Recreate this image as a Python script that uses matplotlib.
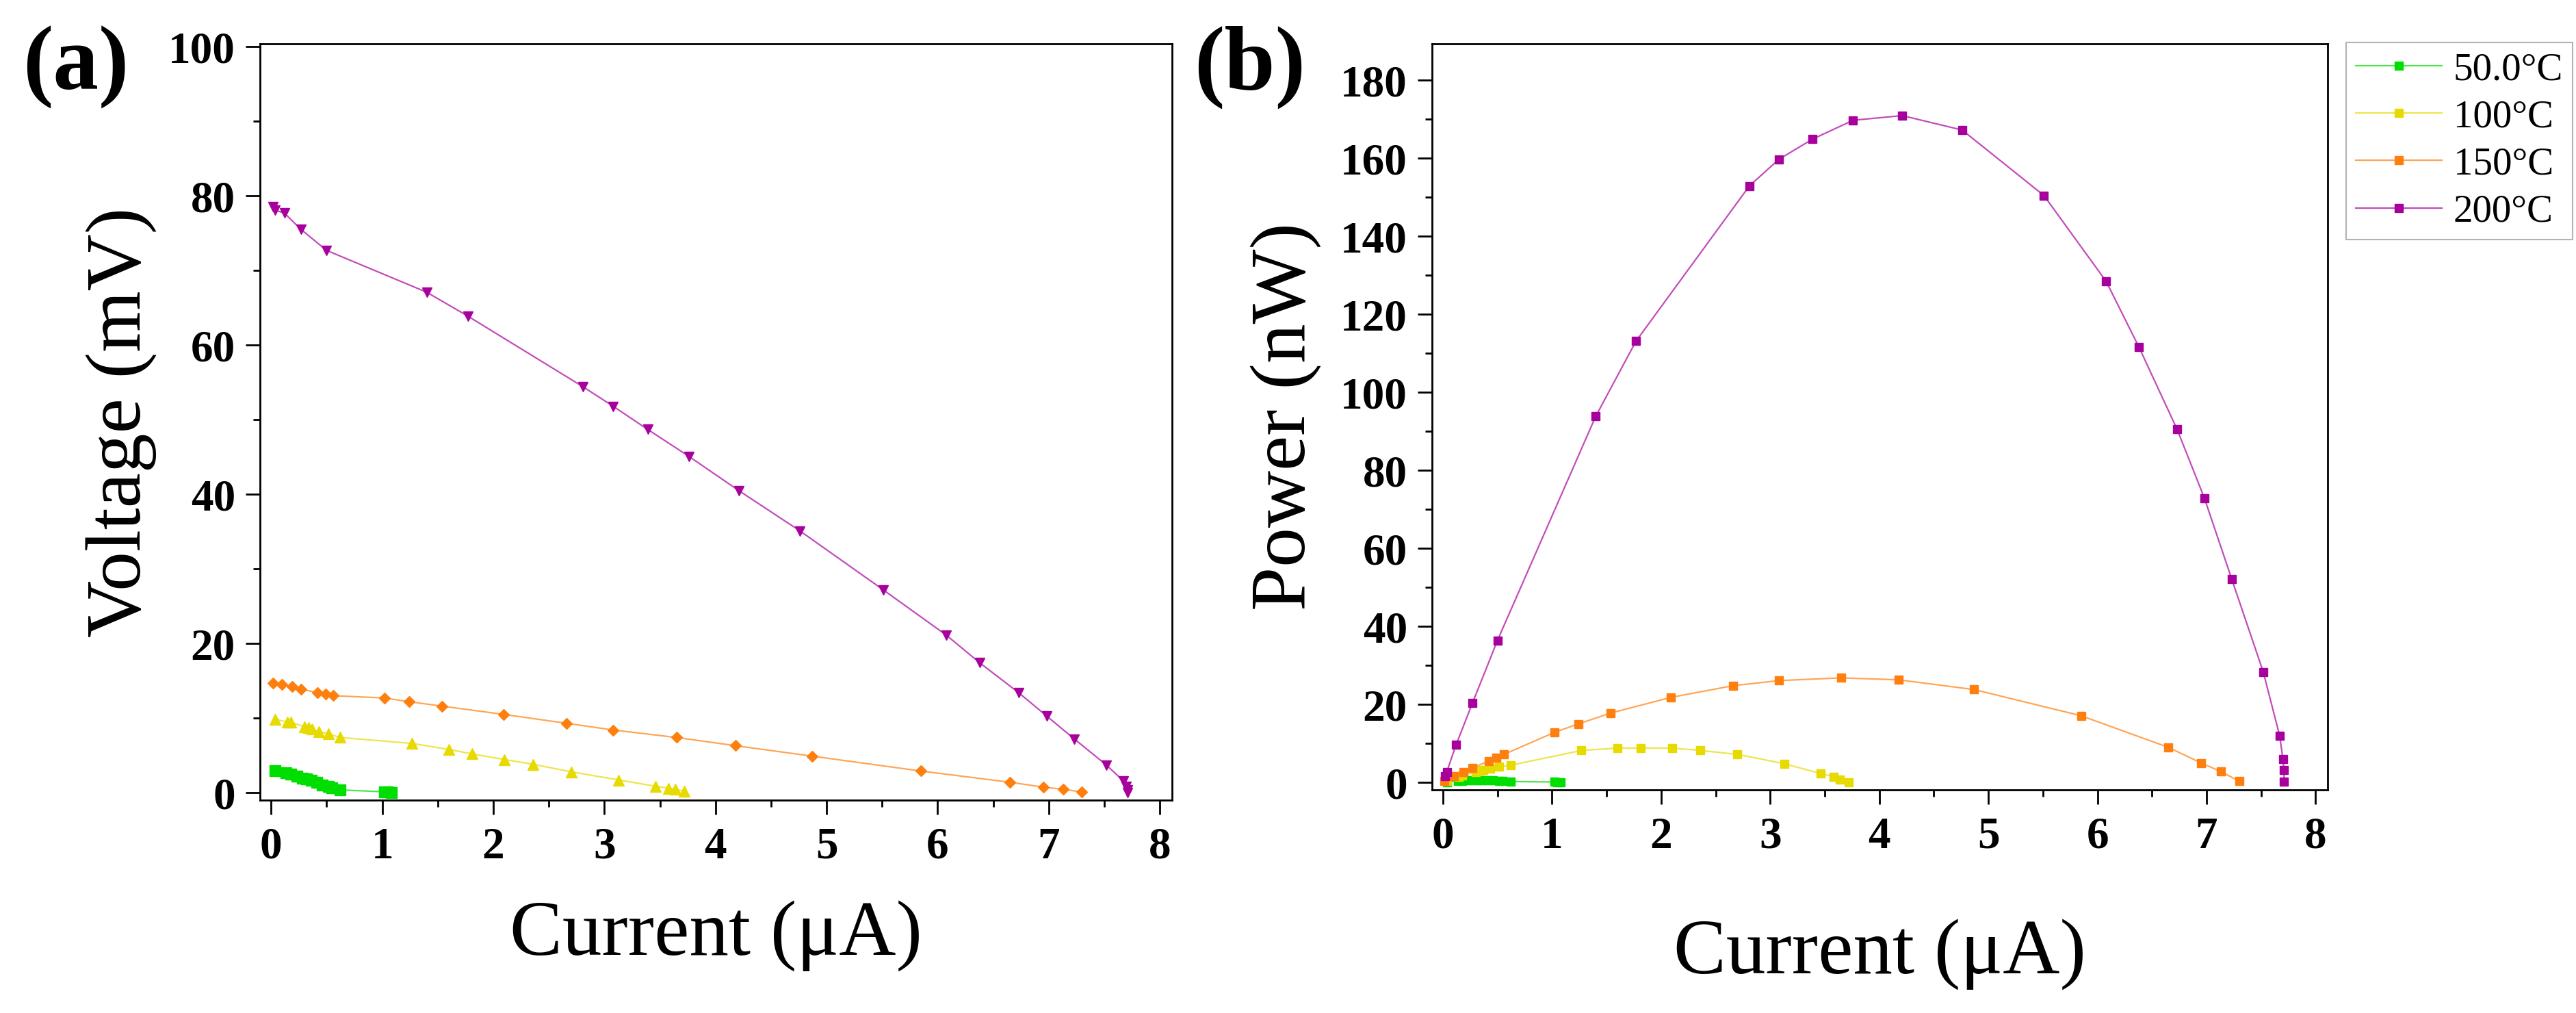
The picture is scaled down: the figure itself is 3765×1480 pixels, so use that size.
import matplotlib
matplotlib.use('Agg')
import matplotlib.pyplot as plt
from matplotlib.colors import to_rgba
from matplotlib.ticker import MultipleLocator

# ---------------------------------------------------------------------------
# Data (current in uA, voltage in mV, power in nW)
# ---------------------------------------------------------------------------
labels = ['50.0°C', '100°C', '150°C', '200°C']

i_50 = [0.035, 0.137, 0.178, 0.23, 0.28, 0.32, 0.36, 0.41, 0.46, 0.515,
        0.546, 0.62, 1.02, 1.05, 1.08]
v_50 = [2.94, 2.63, 2.48, 2.2, 1.96, 1.8, 1.65, 1.35, 1.04, 0.8,
        0.67, 0.37, 0.12, 0.07, 0.02]
p_50 = [0.1, 0.36, 0.44, 0.51, 0.55, 0.58, 0.59, 0.55, 0.48, 0.41,
        0.37, 0.23, 0.12, 0.07, 0.02]

i_100 = [0.035, 0.147, 0.178, 0.30, 0.34, 0.37, 0.43, 0.515, 0.62, 1.27,
         1.60, 1.81, 2.10, 2.36, 2.70, 3.13, 3.46, 3.58, 3.64, 3.72]
v_100 = [9.85, 9.45, 9.45, 8.84, 8.7, 8.53, 8.2, 7.9, 7.4, 6.6,
         5.8, 5.2, 4.45, 3.8, 2.8, 1.7, 0.86, 0.6, 0.43, 0.2]
p_100 = [0.35, 1.4, 1.7, 2.65, 2.95, 3.2, 3.5, 4.0, 4.4, 8.2,
         8.8, 8.8, 8.8, 8.2, 7.2, 4.8, 2.3, 1.5, 0.8, 0.0]

i_150 = [0.014, 0.10, 0.19, 0.27, 0.42, 0.49, 0.56, 1.02, 1.24, 1.54,
         2.09, 2.66, 3.08, 3.65, 4.18, 4.87, 5.85, 6.65, 6.95, 7.13, 7.30]
v_150 = [14.7, 14.5, 14.2, 13.9, 13.4, 13.2, 13.0, 12.7, 12.2, 11.6,
         10.5, 9.3, 8.4, 7.4, 6.3, 4.9, 2.9, 1.4, 0.75, 0.45, 0.1]
p_150 = [0.3, 1.6, 2.6, 3.7, 5.5, 6.4, 7.2, 12.8, 15.0, 17.8,
         21.8, 24.8, 26.1, 26.8, 26.3, 23.8, 17.1, 9.0, 5.0, 2.8, 0.3]

i_200 = [0.02, 0.035, 0.12, 0.27, 0.50, 1.40, 1.77, 2.81, 3.08, 3.39,
         3.76, 4.21, 4.76, 5.51, 6.08, 6.38, 6.73, 6.98, 7.23, 7.52,
         7.67, 7.70, 7.71, 7.71]
v_200 = [78.6, 78.1, 77.7, 75.5, 72.7, 67.1, 63.9, 54.4, 51.8, 48.7,
         45.1, 40.5, 35.1, 27.2, 21.1, 17.4, 13.4, 10.3, 7.2, 3.7,
         1.6, 0.8, 0.4, 0.03]
p_200 = [1.6, 2.7, 9.6, 20.3, 36.4, 93.8, 113.1, 152.9, 159.7, 164.9,
         169.7, 170.9, 167.2, 150.4, 128.4, 111.6, 90.5, 72.9, 52.2, 28.3,
         12.0, 6.0, 3.2, 0.2]

currents = [i_50, i_100, i_150, i_200]
voltages = [v_50, v_100, v_150, v_200]
powers = [p_50, p_100, p_150, p_200]

# ---------------------------------------------------------------------------
# Style
# ---------------------------------------------------------------------------
colores = ['#00DD00', '#E6DA00', '#FF7F0E', '#A8009C']
markers_v = ['s', '^', 'D', 'v']
msize_v = [11, 11, 8, 10]

plt.rcParams.update({
    'font.family': ['Liberation Serif', 'DejaVu Serif'],
    'axes.linewidth': 2.0,
    'axes.unicode_minus': False,
})

W, H = 3766, 1480
fig = plt.figure(figsize=(W / 100, H / 100), dpi=100)

ax1 = fig.add_axes([380 / W, 1 - 1169 / H, 1333 / W, 1105 / H])
ax2 = fig.add_axes([2093 / W, 1 - 1154 / H, 1309 / W, 1090 / H])

# lines slightly lighter than the solid markers, as in the original
for I, V, c, m, ms in zip(currents, voltages, colores, markers_v, msize_v):
    ax1.plot(I, V, color=to_rgba(c, 0.7), lw=1.6, marker=m, ms=ms,
             mec=c, mfc=c)

handles = []
for I, P, c, lab in zip(currents, powers, colores, labels):
    h, = ax2.plot(I, P, color=to_rgba(c, 0.7), lw=1.6, marker='s', ms=8.5,
                  mec=c, mfc=c, label=lab)
    handles.append(h)


def estilo_eje(ax, ylim, ymaj, ymin):
    ax.set_xlim(-0.1, 8.11)
    ax.set_ylim(*ylim)
    ax.xaxis.set_major_locator(MultipleLocator(1))
    ax.xaxis.set_minor_locator(MultipleLocator(0.5))
    ax.yaxis.set_major_locator(MultipleLocator(ymaj))
    ax.yaxis.set_minor_locator(MultipleLocator(ymin))
    ax.tick_params(which='both', direction='out', width=2.0,
                   top=False, right=False)
    ax.tick_params(which='major', length=15)
    ax.tick_params(which='minor', length=7)
    ax.tick_params(axis='y', which='major', pad=11)
    ax.tick_params(axis='x', which='major', pad=13)
    for lab in ax.get_xticklabels() + ax.get_yticklabels():
        lab.set_fontsize(47)
        lab.set_fontweight('bold')


estilo_eje(ax1, (-1.0, 100.4), 20, 10)
estilo_eje(ax2, (-1.9, 189.3), 20, 10)

ax1.set_xlabel('Current (μA)', fontsize=83)
ax1.set_ylabel('Voltage (mV)', fontsize=83)
ax1.xaxis.set_label_coords(0.5, -0.132)
ax1.yaxis.set_label_coords(-0.113, 0.5)

ax2.set_xlabel('Current (μA)', fontsize=83)
ax2.set_ylabel('Power (nW)', fontsize=83)
ax2.xaxis.set_label_coords(0.5, -0.1725)
ax2.yaxis.set_label_coords(-0.124, 0.5)

# Panel tags
fig.text(33 / W, 1 - 38 / H, '(a)', fontsize=96, fontweight='bold',
         ha='left', va='top')
fig.text(1745 / W, 1 - 38 / H, '(b)', fontsize=96, fontweight='bold',
         ha='left', va='top')

# Legend outside panel (b)
leg = fig.legend(handles=handles, loc='upper left',
                 bbox_to_anchor=(3429 / W, 1 - 62 / H),
                 bbox_transform=fig.transFigure,
                 fontsize=41, frameon=True, fancybox=False,
                 edgecolor='#A0A0A0', borderaxespad=0, borderpad=0.25,
                 handlelength=2.2, handletextpad=0.3, labelspacing=0.3,
                 markerscale=1.0)
leg.get_frame().set_linewidth(1.5)

fig.savefig('out.png', dpi=100, facecolor='white')
